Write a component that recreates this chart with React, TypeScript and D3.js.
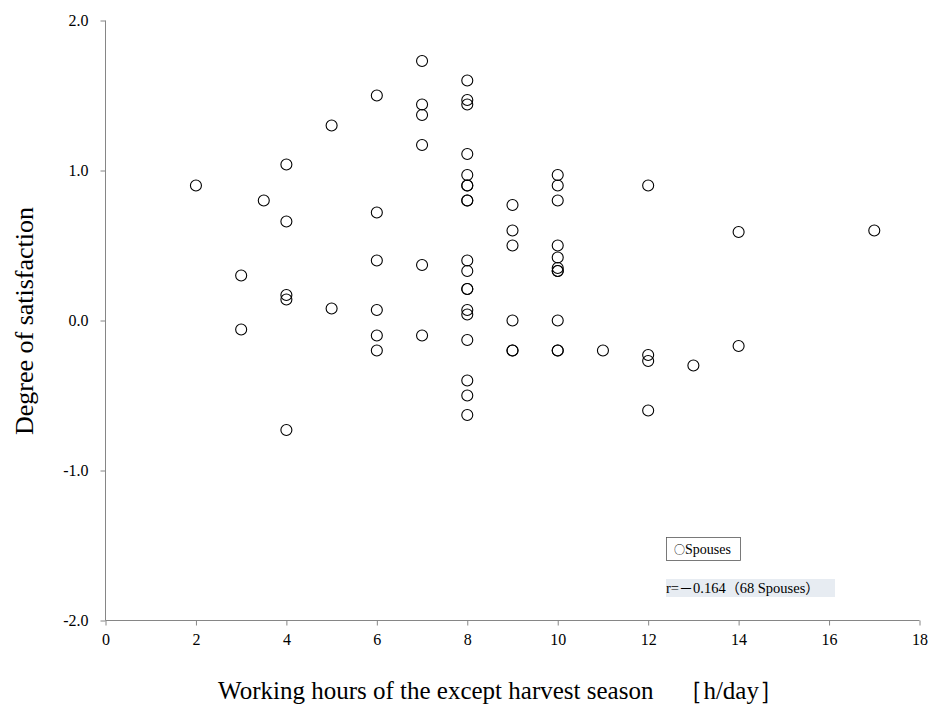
import React, { useEffect, useRef } from "react";
import * as d3 from "d3";

// working hours (except harvest season) and degree of satisfaction, one entry per spouse
const hours = [
  2,
  3, 3,
  3.5,
  4, 4, 4, 4, 4,
  5, 5,
  6, 6, 6, 6, 6, 6,
  7, 7, 7, 7, 7, 7,
  8, 8, 8, 8, 8, 8, 8, 8, 8, 8, 8, 8, 8, 8, 8, 8, 8, 8, 8,
  9, 9, 9, 9, 9, 9,
  10, 10, 10, 10, 10, 10, 10, 10, 10, 10, 10,
  11,
  12, 12, 12, 12,
  13,
  14, 14,
  17,
];
const satisfaction = [
  0.9,
  0.3, -0.06,
  0.8,
  1.04, 0.66, 0.17, 0.14, -0.73,
  1.3, 0.08,
  1.5, 0.72, 0.4, 0.07, -0.1, -0.2,
  1.73, 1.44, 1.37, 1.17, 0.37, -0.1,
  1.6, 1.47, 1.44, 1.11, 0.97, 0.9, 0.9, 0.8, 0.8, 0.4, 0.33, 0.21, 0.21, 0.07, 0.04, -0.13, -0.4, -0.5, -0.63,
  0.77, 0.6, 0.5, 0.0, -0.2, -0.2,
  0.97, 0.9, 0.8, 0.5, 0.42, 0.35, 0.33, 0.33, 0.0, -0.2, -0.2,
  -0.2,
  0.9, -0.23, -0.27, -0.6,
  -0.3,
  0.59, -0.17,
  0.6,
];
const xTicks = [0, 2, 4, 6, 8, 10, 12, 14, 16, 18];
const yTicks = [-2, -1, 0, 1, 2];

const SERIF = "'Liberation Serif', 'Times New Roman', serif";
const CJK = "'Noto Sans CJK JP', sans-serif";
const AXIS = "#868686";

const App: React.FC = () => {
  const svgRef = useRef<SVGSVGElement>(null);

  useEffect(() => {
    const svg = d3.select(svgRef.current);
    svg.selectAll("*").remove();

    const x = d3.scaleLinear().domain([0, 18]).range([105.5, 919.5]);
    const y = d3.scaleLinear().domain([-2, 2]).range([620.5, 20.5]);

    // y axis
    const yAxis = svg.append("g")
      .attr("transform", `translate(${x(0)},0)`)
      .call(d3.axisLeft(y).tickValues(yTicks).tickSize(5).tickPadding(12)
        .tickFormat((d) => (d as number).toFixed(1)));
    yAxis.select(".domain").attr("stroke", AXIS).attr("d", `M0,${y(2)}V${y(-2)}`);
    yAxis.selectAll("line").attr("stroke", AXIS);
    yAxis.selectAll("text")
      .attr("font-family", SERIF).attr("font-size", 16).attr("fill", "#000");

    // x axis
    const xAxis = svg.append("g")
      .attr("transform", `translate(0,${y(-2)})`)
      .call(d3.axisBottom(x).tickValues(xTicks).tickSize(5).tickPadding(8).tickFormat(d3.format("d")));
    xAxis.select(".domain").attr("stroke", AXIS).attr("d", `M${x(0)},0H${x(18)}`);
    xAxis.selectAll("line").attr("stroke", AXIS);
    xAxis.selectAll("text")
      .attr("font-family", SERIF).attr("font-size", 16).attr("fill", "#000");

    // points
    svg.append("g")
      .selectAll("circle")
      .data(hours.map((h, i) => [h, satisfaction[i]]))
      .join("circle")
      .attr("cx", (d) => x(d[0]))
      .attr("cy", (d) => y(d[1]))
      .attr("r", 5.5)
      .attr("fill", "none")
      .attr("stroke", "#000")
      .attr("stroke-width", 1.1);

    // axis titles
    svg.append("text")
      .attr("x", 501).attr("y", 699)
      .attr("text-anchor", "middle")
      .attr("font-family", SERIF).attr("font-size", 25)
      .text("Working hours of the except harvest season　［h/day］");

    svg.append("text")
      .attr("transform", "translate(33,321) rotate(-90)")
      .attr("text-anchor", "middle")
      .attr("font-family", SERIF).attr("font-size", 26)
      .text("Degree of satisfaction");

    // legend
    svg.append("rect")
      .attr("x", 666.5).attr("y", 537.5).attr("width", 74).attr("height", 23)
      .attr("fill", "#fff").attr("stroke", "#595959").attr("stroke-width", 0.8);
    const lg = svg.append("text")
      .attr("x", 674).attr("y", 554)
      .attr("font-family", SERIF).attr("font-size", 14);
    lg.append("tspan").attr("font-family", CJK).attr("font-size", 11).text("○");
    lg.append("tspan").text("Spouses");

    // correlation note
    svg.append("rect")
      .attr("x", 666).attr("y", 579).attr("width", 169).attr("height", 18)
      .attr("fill", "#e7ecf2");
    const note = svg.append("text")
      .attr("x", 666).attr("y", 593)
      .attr("font-family", SERIF).attr("font-size", 14.5);
    note.append("tspan").text("r=");
    note.append("tspan").attr("font-family", CJK).attr("font-size", 14).text("－");
    note.append("tspan").text("0.164");
    note.append("tspan").attr("font-family", CJK).attr("font-size", 14).text("（");
    note.append("tspan").text("68 Spouses");
    note.append("tspan").attr("font-family", CJK).attr("font-size", 14).text("）");
  }, []);

  return (
    <svg
      ref={svgRef}
      width={933}
      height={706}
      style={{ position: "absolute", left: 0, top: 0, background: "#fff", display: "block" }}
    />
  );
};

export default App;
